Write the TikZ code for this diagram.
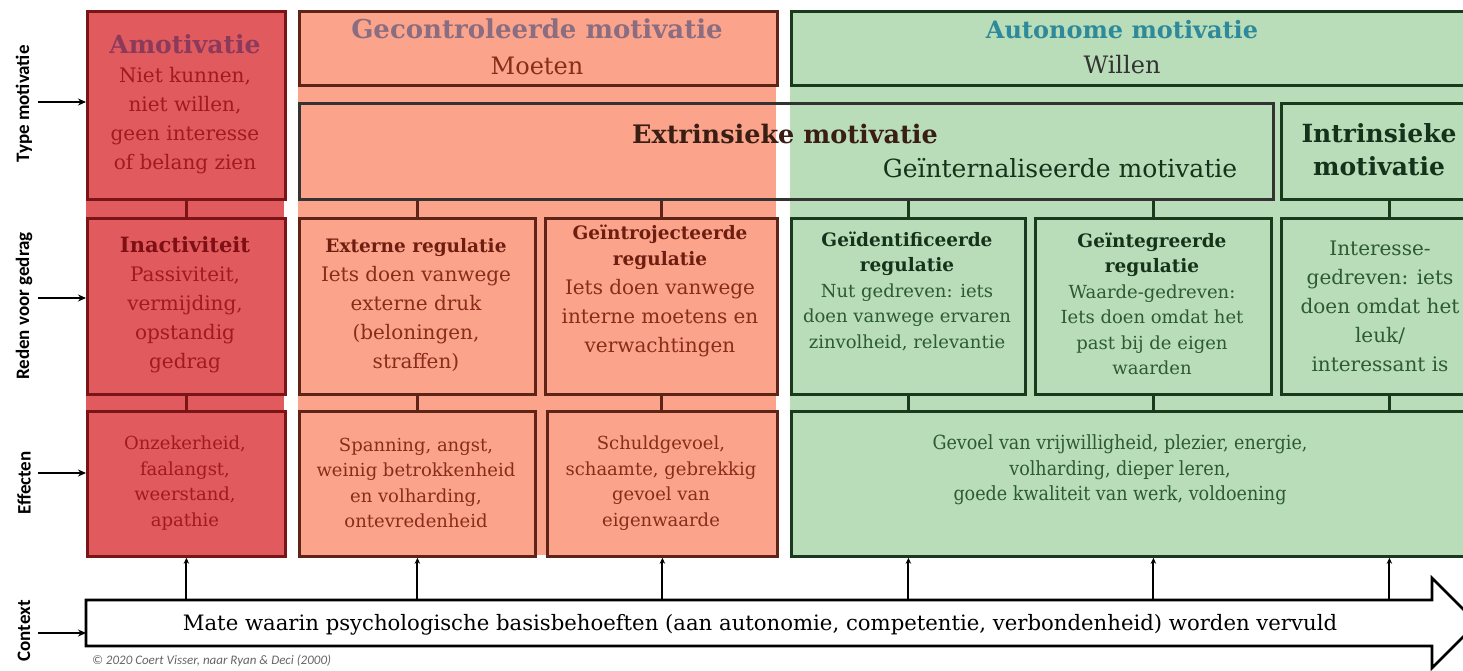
\documentclass[tikz,border=0pt]{standalone}
\usepackage{fontspec}
\setmainfont{DejaVu Serif}
\newfontfamily\condserif[FakeStretch=0.9]{DejaVu Serif}
\newfontfamily\lblfont{Carlito}
\usetikzlibrary{arrows.meta}
\definecolor{redfill}{HTML}{E05A5E}
\definecolor{redline}{HTML}{7A1416}
\definecolor{redtext}{HTML}{A11A20}
\definecolor{redtitle}{HTML}{8C3A5C}
\definecolor{reddark}{HTML}{7E1014}
\definecolor{salfill}{HTML}{FBA48B}
\definecolor{salline}{HTML}{5E2418}
\definecolor{saltext}{HTML}{8A2C1A}
\definecolor{saltitle}{HTML}{8A6D80}
\definecolor{saldark}{HTML}{6E1E10}
\definecolor{grnfill}{HTML}{B9DDB9}
\definecolor{grnline}{HTML}{1A3A1E}
\definecolor{grntext}{HTML}{2C5A32}
\definecolor{grntitle}{HTML}{15331A}
\definecolor{autotitle}{HTML}{2E8A9A}
\definecolor{extrtext}{HTML}{3A1E14}
\newcommand{\mkhead}[3]{{\color{#1}\bfseries\fontsize{#2}{26}\selectfont #3}}
\begin{document}
\begin{tikzpicture}[x=1pt,y=-1pt,
  boxbase/.style={draw, line width=2.8pt, inner sep=0pt, anchor=north west},
  redbox/.style={boxbase, draw=redline},
  salbox/.style={boxbase, draw=salline},
  grnbox/.style={boxbase, draw=grnline},
  conn/.style={line width=2.2pt},
  txt/.style={align=center, inner sep=0pt, font=\fontsize{20}{29}\selectfont},
  smalltxt/.style={align=center, inner sep=0pt, font=\fontsize{18}{25.5}\selectfont},
  lbl/.style={rotate=90, inner sep=0pt, font=\lblfont\bfseries\fontsize{19}{22}\selectfont},
  lblarrow/.style={line width=2pt, -{Stealth[length=8pt,width=7pt]}},
  uparrow/.style={line width=2pt, -{Stealth[length=6pt,width=5.5pt]}}
]
\useasboundingbox (0,0) rectangle (1463,670);
\clip (0,0) rectangle (1463,670);
\fill[white] (0,0) rectangle (1463,670);

% column backgrounds
\fill[redfill] (86,10) rectangle (284,555);
\fill[salfill] (298,10) rectangle (776,555);
\fill[grnfill] (790,10) rectangle (1500,555);

% ---- red column
\node[redbox, minimum width=198pt, minimum height=188pt] (amo) at (86,10) {};
\node[redbox, minimum width=198pt, minimum height=176pt] (ina) at (86,217) {};
\node[redbox, minimum width=198pt, minimum height=145pt] (onz) at (86,410) {};
\node[txt, text=redtext] (amotxt) at (185,104)
  {\mkhead{redtitle}{25}{Amotivatie}\\Niet kunnen,\\niet willen,\\geen interesse\\of belang zien};
\node[txt, text=redtext] (inatxt) at (185,305)
  {\mkhead{reddark}{21}{Inactiviteit}\\Passiviteit,\\vermijding,\\opstandig\\gedrag};
\node[smalltxt, text=redtext] (onztxt) at (185,483)
  {Onzekerheid,\\faalangst,\\weerstand,\\apathie};

% ---- salmon column
\node[salbox, minimum width=478pt, minimum height=74pt] (gec) at (298,10) {};
\node[salbox, minimum width=974pt, minimum height=96pt, draw=black!80] (ext) at (298,102) {};
\node[salbox, minimum width=236pt, minimum height=176pt] (ereg) at (298,217) {};
\node[salbox, minimum width=232pt, minimum height=176pt] (intro) at (544,217) {};
\node[salbox, minimum width=236pt, minimum height=145pt] (span) at (298,410) {};
\node[salbox, minimum width=230pt, minimum height=145pt] (schuld) at (546,410) {};
\node[txt, text=saltext, font=\fontsize{24}{36}\selectfont] (gectxt) at (537,47)
  {{\color{saltitle}\bfseries\fontsize{26}{36}\selectfont Gecontroleerde motivatie}\\Moeten};
\node[txt, text=extrtext, font=\bfseries\fontsize{25.5}{29}\selectfont] (exttxt) at (785,134)
  {Extrinsieke motivatie};
\node[txt, text=grntitle, font=\fontsize{25}{29}\selectfont] (gintxt) at (1060,168)
  {Geïnternaliseerde motivatie};
\node[txt, text=saltext] (eregtxt) at (416,305)
  {\mkhead{saldark}{18.5}{Externe regulatie}\\Iets doen vanwege\\externe druk\\(beloningen,\\straffen)};
\node[txt, text=saltext] (introtxt) at (660,291)
  {\mkhead{saldark}{18.5}{Geïntrojecteerde}\\[-3pt]\mkhead{saldark}{18.5}{regulatie}\\Iets doen vanwege\\interne moetens en\\verwachtingen};
\node[smalltxt, text=saltext] (spantxt) at (416,483)
  {Spanning, angst,\\weinig betrokkenheid\\en volharding,\\ontevredenheid};
\node[smalltxt, text=saltext] (schuldtxt) at (661,483)
  {Schuldgevoel,\\schaamte, gebrekkig\\gevoel van\\eigenwaarde};

% ---- green column
\node[grnbox, minimum width=710pt, minimum height=74pt] (aut) at (790,10) {};
\node[grnbox, minimum width=216pt, minimum height=96pt] (intr) at (1280,102) {};
\node[grnbox, minimum width=234pt, minimum height=176pt] (gid) at (790,217) {};
\node[grnbox, minimum width=236pt, minimum height=176pt] (gint) at (1034,217) {};
\node[grnbox, minimum width=216pt, minimum height=176pt] (ires) at (1280,217) {};
\node[grnbox, minimum width=710pt, minimum height=145pt] (geff) at (790,410) {};
\node[txt, text=black!80, font=\fontsize{24}{35}\selectfont] (auttxt) at (1122,47)
  {{\color{autotitle}\bfseries Autonome motivatie}\\Willen};
\node[txt, text=grntitle, font=\bfseries\fontsize{25}{33}\selectfont] (intrtxt) at (1379,150)
  {Intrinsieke\\motivatie};
\node[smalltxt, text=grntext] (gidtxt) at (907,291)
  {\mkhead{grntitle}{18.5}{Geïdentificeerde}\\\mkhead{grntitle}{18.5}{regulatie}\\Nut gedreven: iets\\doen vanwege ervaren\\zinvolheid, relevantie};
\node[smalltxt, text=grntext] (ginttxt) at (1152,304)
  {\mkhead{grntitle}{18.5}{Geïntegreerde}\\\mkhead{grntitle}{18.5}{regulatie}\\Waarde-gedreven:\\Iets doen omdat het\\past bij de eigen\\waarden};
\node[txt, text=grntext] (irestxt) at (1380,306)
  {Interesse-\\gedreven: iets\\doen omdat het\\leuk/\\interessant is};
\node[smalltxt, text=grntext, font=\condserif\fontsize{19.5}{25.5}\selectfont] (gefftxt) at (1120,470)
  {Gevoel van vrijwilligheid, plezier, energie,\\volharding, dieper leren,\\goede kwaliteit van werk, voldoening};

% ---- connectors between rows
\draw[conn, redline] (amo.south) -- (ina.north);
\draw[conn, redline] (ina.south) -- (onz.north);
\draw[conn, salline] (ereg.north) -- (ereg.north |- ext.south);
\draw[conn, salline] (intro.north) -- (intro.north |- ext.south);
\draw[conn, salline] (ereg.south) -- (ereg.south |- span.north);
\draw[conn, salline] (intro.south) -- (intro.south |- schuld.north);
\draw[conn, grnline] (gid.north) -- (gid.north |- ext.south);
\draw[conn, grnline] (gint.north) -- (gint.north |- ext.south);
\draw[conn, grnline] (ires.north) -- (ires.north |- intr.south);
\draw[conn, grnline] (gid.south) -- (gid.south |- geff.north);
\draw[conn, grnline] (gint.south) -- (gint.south |- geff.north);
\draw[conn, grnline] (ires.south) -- (ires.south |- geff.north);

% ---- context arrow
\draw[line width=2.6pt, fill=white] (86,600) -- (1432,600) -- (1432,578) -- (1477,623)
  -- (1432,668) -- (1432,646) -- (86,646) -- cycle;
\coordinate (ctxtop) at (0,600);
\coordinate (ctxw) at (86,633);
\node[inner sep=0pt, font=\fontsize{21.2}{26}\selectfont] (ctx) at (760,625)
  {Mate waarin psychologische basisbehoeften (aan autonomie, competentie, verbondenheid) worden vervuld};
\draw[uparrow] (ctxtop -| onz.south) -- (onz.south);
\draw[uparrow] (ctxtop -| span.south) -- (span.south);
\draw[uparrow] (ctxtop -| schuld.south) -- (schuld.south);
\draw[uparrow] (ctxtop -| gid.south) -- (gid.south |- geff.south);
\draw[uparrow] (ctxtop -| gint.south) -- (gint.south |- geff.south);
\draw[uparrow] (ctxtop -| ires.south) -- (ires.south |- geff.south);

% ---- side labels
\node[lbl] (ltype) at (24,104) {Type motivatie};
\node[lbl] (lreden) at (24,306) {Reden voor gedrag};
\node[lbl] (leff) at (24,483) {Effecten};
\node[lbl] (lctx) at (24,631) {Context};
\coordinate (la) at (38,102);
\coordinate (lb) at (38,298);
\coordinate (lc) at (38,473);
\coordinate (ld) at (38,633);
\draw[lblarrow] (la) -- (la -| amo.west);
\draw[lblarrow] (lb) -- (lb -| ina.west);
\draw[lblarrow] (lc) -- (lc -| onz.west);
\draw[lblarrow] (ld) -- (ctxw);

% ---- credit
\node[anchor=west, inner sep=0pt, text=black!60, font=\lblfont\itshape\fontsize{13}{15}\selectfont] (credit) at (92,661)
  {© 2020 Coert Visser, naar Ryan \& Deci (2000)};
\end{tikzpicture}
\end{document}
